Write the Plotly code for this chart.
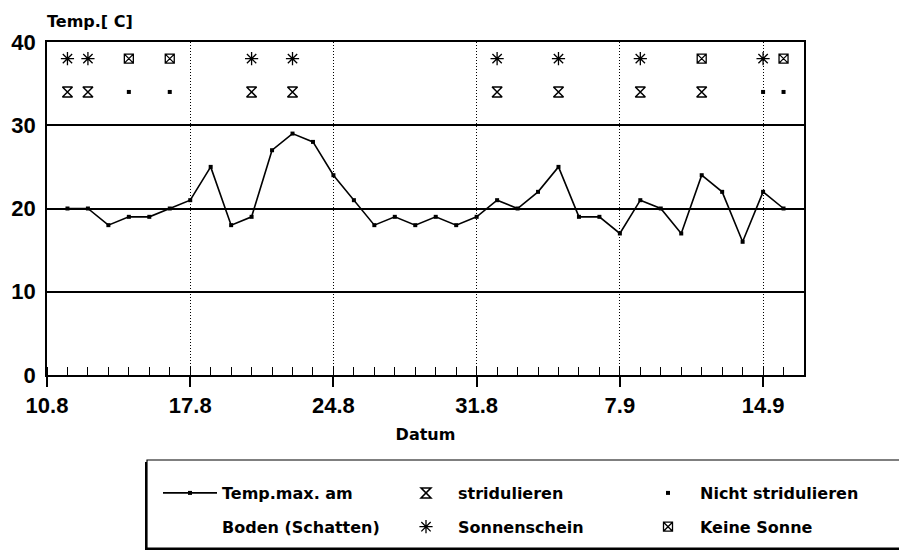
import pandas as pd
import plotly.graph_objects as go

# ---------------- data ----------------
dates = ["11.8", "12.8", "13.8", "14.8", "15.8", "16.8", "17.8", "18.8", "19.8", "20.8",
         "21.8", "22.8", "23.8", "24.8", "25.8", "26.8", "27.8", "28.8", "29.8", "30.8",
         "31.8", "1.9", "2.9", "3.9", "4.9", "5.9", "6.9", "7.9", "8.9", "9.9",
         "10.9", "11.9", "12.9", "13.9", "14.9", "15.9"]
temp_max = [20, 20, 18, 19, 19, 20, 21, 25, 18, 19,
            27, 29, 28, 24, 21, 18, 19, 18, 19, 18,
            19, 21, 20, 22, 25, 19, 19, 17, 21, 20,
            17, 24, 22, 16, 22, 20]
obs_dates = ["11.8", "12.8", "14.8", "16.8", "20.8", "22.8",
             "1.9", "4.9", "8.9", "11.9", "14.9", "15.9"]
sonne = ["ja", "ja", "nein", "nein", "ja", "ja",
         "ja", "ja", "ja", "nein", "ja", "nein"]
stridul = ["ja", "ja", "nein", "nein", "ja", "ja",
           "ja", "ja", "ja", "ja", "nein", "nein"]
tick_labels = ["10.8", "17.8", "24.8", "31.8", "7.9", "14.9"]
YEAR = "1990"

def to_dt(lbls):
    return pd.to_datetime([l + "." + YEAR for l in lbls], format="%d.%m.%Y")

x_temp = to_dt(dates)
x_obs = to_dt(obs_dates)
tick_vals = to_dt(tick_labels)

# ---------------- layout helpers ----------------
OFF = 8                      # page body margin
W, H = 907 - OFF, 552 - OFF
ML, MR, MT, MB = 47 - OFF, 103, 42 - OFF, 177
PW, PH = W - ML - MR, H - MT - MB
def px2x(px):
    return (px - OFF - ML) / PW
def py2y(py):
    return (H - MB - (py - OFF)) / PH

ROW_SUN = 38
ROW_STR = 34
BLACK = "black"
SANS_B = dict(family="DejaVu Sans", size=16, color=BLACK, weight="bold")
TICK_B = dict(family="Liberation Sans, Arial", size=22, color=BLACK, weight="bold")

fig = go.Figure()
fig.add_trace(go.Scatter(
    x=x_temp, y=temp_max, mode="lines+markers", name="Temp.max. am",
    line=dict(color=BLACK, width=1.6),
    marker=dict(symbol="square", size=4, color=BLACK),
    legend="legend", legendgroup="a1"))
fig.add_trace(go.Scatter(
    x=[None], y=[None], mode="lines", name="Boden (Schatten)",
    line=dict(color="rgba(0,0,0,0)", width=0),
    legend="legend", legendgroup="a2"))

def pick(vals, key):
    return [x for x, v in zip(x_obs, vals) if v == key]

fig.add_trace(go.Scatter(
    x=pick(stridul, "ja"), y=[ROW_STR] * len(pick(stridul, "ja")),
    mode="markers", name="stridulieren",
    marker=dict(symbol="hourglass-open", size=10, color=BLACK, line=dict(width=1.5, color=BLACK)),
    legend="legend2", legendgroup="b1"))
fig.add_trace(go.Scatter(
    x=pick(sonne, "ja"), y=[ROW_SUN] * len(pick(sonne, "ja")),
    mode="markers", name="Sonnenschein",
    marker=dict(symbol="asterisk-open", size=11, color=BLACK, line=dict(width=1.3, color=BLACK)),
    legend="legend2", legendgroup="b2"))
fig.add_trace(go.Scatter(
    x=pick(stridul, "nein"), y=[ROW_STR] * len(pick(stridul, "nein")),
    mode="markers", name="Nicht stridulieren",
    marker=dict(symbol="square", size=4, color=BLACK),
    legend="legend3", legendgroup="c1"))
fig.add_trace(go.Scatter(
    x=pick(sonne, "nein"), y=[ROW_SUN] * len(pick(sonne, "nein")),
    mode="markers", name="Keine Sonne",
    marker=dict(symbol="square-x-open", size=9, color=BLACK, line=dict(width=1.3, color=BLACK)),
    legend="legend3", legendgroup="c2"))

day = 86400000
fig.update_xaxes(
    type="date", automargin=False,
    range=[pd.Timestamp("1990-08-10"), pd.Timestamp("1990-09-16")],
    tickvals=tick_vals, ticktext=tick_labels,
    ticks="outside", ticklen=10, tickwidth=1.5, tickcolor=BLACK,
    minor=dict(dtick=day, tick0="1990-08-10", ticks="inside", ticklen=8,
               tickwidth=1.2, tickcolor=BLACK, showgrid=False),
    showgrid=True, gridcolor=BLACK, gridwidth=1, griddash="1px,2px",
    showline=True, linecolor=BLACK, linewidth=1.5, mirror=True,
    tickfont=TICK_B, ticklabelstandoff=0,
    title=dict(text="Datum", font=SANS_B, standoff=12),
    zeroline=False,
)
fig.update_yaxes(
    automargin=False,
    range=[0, 40], tickvals=[0, 10, 20, 30, 40],
    ticks="", showgrid=True, gridcolor=BLACK, gridwidth=1.5,
    showline=True, linecolor=BLACK, linewidth=1.5, mirror=True,
    tickfont=TICK_B, ticklabelstandoff=5, zeroline=False,
)

leg_common = dict(font=SANS_B, bgcolor="rgba(0,0,0,0)", borderwidth=0,
                  orientation="v", xanchor="left", yanchor="top",
                  itemwidth=54, tracegroupgap=10, traceorder="grouped")
fig.update_layout(
    width=W, height=H,
    margin=dict(l=ML, r=MR, t=MT, b=MB, autoexpand=False),
    paper_bgcolor="white", plot_bgcolor="white",
    showlegend=True,
    title=dict(text="Temp.[ C]", font=SANS_B, x=ML / W, xanchor="left",
               y=1 - (21 - OFF) / H, yanchor="middle"),
    legend=dict(x=px2x(158), y=py2y(476), **leg_common),
    legend2=dict(x=px2x(394), y=py2y(476), **leg_common),
    legend3=dict(x=px2x(636), y=py2y(476), **leg_common),
    shapes=[
        dict(type="rect", xref="paper", yref="paper",
             x0=px2x(145), x1=px2x(903), y0=py2y(550), y1=py2y(462),
             fillcolor=BLACK, line=dict(width=0), layer="above"),
        dict(type="rect", xref="paper", yref="paper",
             x0=px2x(147), x1=px2x(905), y0=py2y(548), y1=py2y(460),
             fillcolor="white", line=dict(width=1.2, color=BLACK), layer="above"),
    ],
)

fig.write_html("out.html")
